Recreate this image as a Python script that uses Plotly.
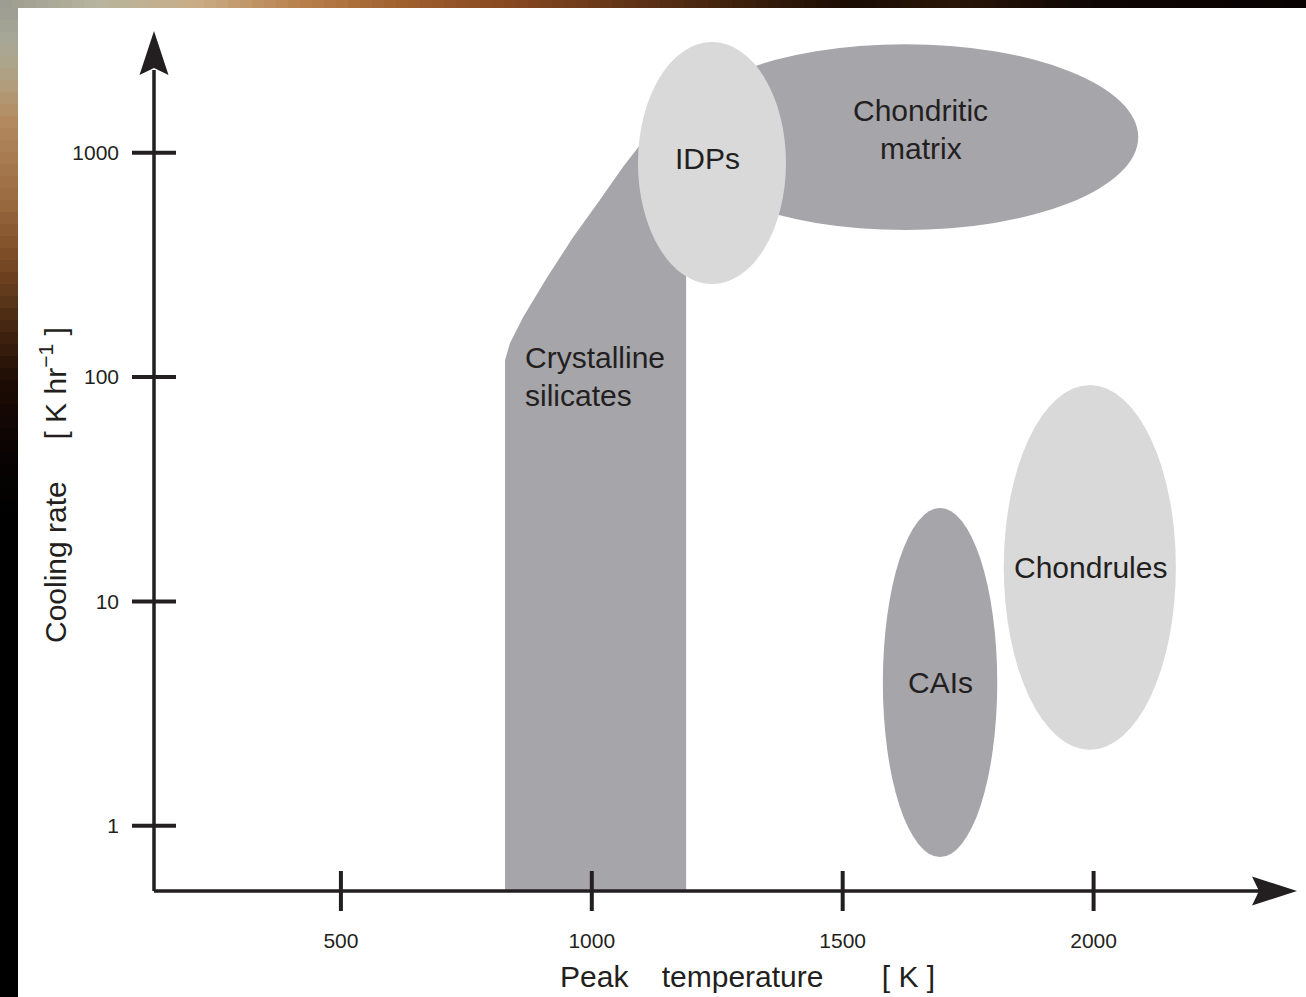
import numpy as np
import plotly.graph_objects as go

# ---- axis ticks ----
temp_ticks = [500, 1000, 1500, 2000]          # peak temperature [K]
rate_ticks = [1, 10, 100, 1000]               # cooling rate [K/hr]

# ---- axis extents ----
temp_range = [127.5, 2401.4]
rate_range = [0.5116, 3528.0]

# ---- Crystalline silicates outline (peak temperature, cooling rate) ----
cryst_temp = [827, 827, 837, 863, 911, 963, 1016, 1062, 1096, 1216, 1188, 1188]
cryst_rate = [0.5116, 119, 142, 185, 279, 421, 616, 865, 1083, 1140, 616, 0.5116]

# ---- elliptical regions: temperature span and cooling-rate span ----
matrix_temp = [1160, 2089]
matrix_rate = [453, 3050]
idp_temp = [1092, 1387]
idp_rate = [260, 3120]
cai_temp = [1580, 1808]
cai_rate = [0.725, 26.1]
chondrule_temp = [1821, 2164]
chondrule_rate = [2.18, 92.2]

# ---- region labels: text, temperature, cooling rate, anchor ----
label_text = ["Chondritic", "matrix", "IDPs", "Crystalline", "silicates", "Chondrules", "CAIs"]
label_temp = [1656, 1656, 1230, 863, 863, 1993, 1694]
label_rate = [1537, 1050, 948, 122.9, 83.2, 14.23, 4.37]
label_anchor = ["center", "center", "center", "left", "left", "center", "center"]

DARK = "#a6a5aa"
LIGHT = "#d9d9d9"
INK = "#231f20"
FONT = "Liberation Sans, Arial, sans-serif"

W, H = 1306, 997
L, R, T, B = 154, 11, 30, 106
PW, PH = W - L - R, H - T - B


def px(x):
    return (x - L) / PW


def py(y):
    return (H - B - y) / PH


def hex_rgb(h):
    h = h.lstrip("#")
    return [int(h[i:i + 2], 16) for i in (0, 2, 4)]


def blend(stops, pos):
    """Colour at pixel position pos along a list of (position, hex) stops."""
    ps = [s[0] for s in stops]
    cs = np.array([hex_rgb(s[1]) for s in stops], dtype=float)
    rgb = [np.interp(pos, ps, cs[:, k]) for k in range(3)]
    return "rgb({:.0f},{:.0f},{:.0f})".format(*rgb)


fig = go.Figure()

fig.add_trace(go.Scatter(
    x=cryst_temp, y=cryst_rate, mode="none", fill="toself",
    fillcolor=DARK, hoverinfo="skip", showlegend=False,
))

shapes = []

# page frame: wood-toned strips around a white sheet
top_stops = [(0, "#9c9c90"), (100, "#b8b49e"), (200, "#c9ac84"), (300, "#b8804c"),
             (400, "#a0602e"), (500, "#8a4a22"), (650, "#5a3015"), (750, "#3a1f0c"),
             (850, "#1a0c04"), (950, "#2a1608"), (1100, "#0e0604"), (1306, "#080202")]
step = 12
for a in range(0, W, step):
    shapes.append(dict(type="rect", xref="paper", yref="paper", x0=px(a), x1=px(a + step + 1),
                       y0=py(10), y1=py(0), fillcolor=blend(top_stops, a + step / 2),
                       line_width=0, layer="below"))
left_stops = [(0, "#9a9a90"), (40, "#a8a898"), (80, "#b0a080"), (120, "#b48a60"),
              (200, "#9a6a40"), (260, "#7a4a25"), (320, "#4a2a12"), (380, "#1e0c05"),
              (450, "#0a0303"), (520, "#000000"), (997, "#000000")]
for a in range(8, H, step):
    shapes.append(dict(type="rect", xref="paper", yref="paper", x0=px(0), x1=px(18),
                       y0=py(a + step + 1), y1=py(a), fillcolor=blend(left_stops, a + step / 2),
                       line_width=0, layer="below"))
shapes.append(dict(type="rect", xref="paper", yref="paper", x0=px(18), x1=px(W),
                   y0=py(H), y1=py(8), fillcolor="white", line_width=0, layer="below"))

# elliptical regions
for tx, rt, col in [(matrix_temp, matrix_rate, DARK), (idp_temp, idp_rate, LIGHT),
                    (cai_temp, cai_rate, DARK), (chondrule_temp, chondrule_rate, LIGHT)]:
    shapes.append(dict(type="circle", xref="x", yref="y", x0=tx[0], x1=tx[1],
                       y0=rt[0], y1=rt[1], fillcolor=col, line_width=0, layer="above"))

# axis lines with arrowheads
shapes.append(dict(type="line", xref="paper", yref="paper", x0=0, x1=0, y0=0, y1=py(70),
                   line=dict(color=INK, width=3.5), layer="above"))
shapes.append(dict(type="line", xref="paper", yref="paper", x0=0, x1=px(1260), y0=0, y1=0,
                   line=dict(color=INK, width=3.5), layer="above"))
shapes.append(dict(type="path", xref="paper", yref="paper",
                   path=f"M {px(154)},{py(31)} L {px(168.5)},{py(75)} L {px(154)},{py(68)} "
                        f"L {px(139.5)},{py(75)} Z",
                   fillcolor=INK, line_width=0, layer="above"))
shapes.append(dict(type="path", xref="paper", yref="paper",
                   path=f"M {px(1297)},{py(891)} L {px(1252)},{py(876.5)} L {px(1259)},{py(891)} "
                        f"L {px(1252)},{py(905.5)} Z",
                   fillcolor=INK, line_width=0, layer="above"))

# tick marks crossing the axes
for t in temp_ticks:
    shapes.append(dict(type="line", xref="x", yref="paper", x0=t, x1=t,
                       y0=-20 / PH, y1=20 / PH, line=dict(color=INK, width=4), layer="above"))
for r in rate_ticks:
    shapes.append(dict(type="line", xref="paper", yref="y", x0=-22 / PW, x1=22 / PW,
                       y0=r, y1=r, line=dict(color=INK, width=4), layer="above"))

annotations = []
for txt, tx, rt, anc in zip(label_text, label_temp, label_rate, label_anchor):
    annotations.append(dict(text=txt, x=tx, y=np.log10(rt), xref="x", yref="y",
                            xanchor=anc, yanchor="middle", showarrow=False,
                            font=dict(family=FONT, size=30, color=INK)))

nb = "\u00a0"
annotations.append(dict(
    text=f"Peak{nb * 4}temperature{nb * 7}[ K ]",
    x=px(747), y=py(976), xref="paper", yref="paper", xanchor="center", yanchor="middle",
    showarrow=False, font=dict(family=FONT, size=30, color=INK)))
annotations.append(dict(
    text=f"Cooling rate{nb * 5}[ K hr<sup>\u22121</sup> ]",
    x=px(53), y=py(485), xref="paper", yref="paper", xanchor="center", yanchor="middle",
    textangle=-90, showarrow=False, font=dict(family=FONT, size=30, color=INK)))

fig.update_layout(
    width=W, height=H, autosize=False,
    margin=dict(l=L, r=R, t=T, b=B, pad=0),
    paper_bgcolor="#000000", plot_bgcolor="rgba(0,0,0,0)",
    showlegend=False, shapes=shapes, annotations=annotations,
    xaxis=dict(range=temp_range, tickvals=temp_ticks, ticks="", showline=False,
               showgrid=False, zeroline=False, ticklabelstandoff=35,
               tickfont=dict(family=FONT, size=21, color=INK), fixedrange=True),
    yaxis=dict(type="log", range=[np.log10(rate_range[0]), np.log10(rate_range[1])],
               tickvals=rate_ticks, ticktext=[str(v) for v in rate_ticks], ticks="",
               showline=False, showgrid=False, zeroline=False, ticklabelstandoff=34,
               tickfont=dict(family=FONT, size=21, color=INK), fixedrange=True),
)

fig.write_html("out.html")
